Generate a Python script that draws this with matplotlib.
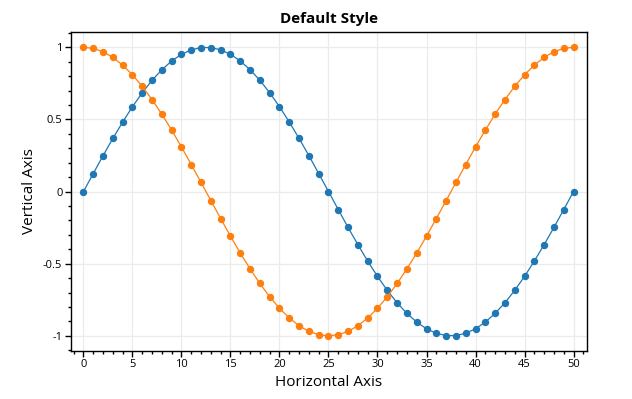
import matplotlib
matplotlib.use("Agg")
import matplotlib.pyplot as plt
from matplotlib.ticker import MultipleLocator, FuncFormatter

plt.rcParams['font.family'] = ['Open Sans', 'DejaVu Sans']
plt.rcParams['axes.unicode_minus'] = False

xs = list(range(51))
sin_vals = [0.0, 0.125, 0.249, 0.368, 0.482, 0.588, 0.685, 0.771, 0.844, 0.905,
            0.951, 0.982, 0.998, 0.998, 0.982, 0.951, 0.905, 0.844, 0.771, 0.685,
            0.588, 0.482, 0.368, 0.249, 0.125, 0.0, -0.125, -0.249, -0.368, -0.482,
            -0.588, -0.685, -0.771, -0.844, -0.905, -0.951, -0.982, -0.998, -0.998, -0.982,
            -0.951, -0.905, -0.844, -0.771, -0.685, -0.588, -0.482, -0.368, -0.249, -0.125,
            0.0]
cos_vals = [1.0, 0.992, 0.969, 0.930, 0.876, 0.809, 0.729, 0.637, 0.536, 0.426,
            0.309, 0.187, 0.063, -0.063, -0.187, -0.309, -0.426, -0.536, -0.637, -0.729,
            -0.809, -0.876, -0.930, -0.969, -0.992, -1.0, -0.992, -0.969, -0.930, -0.876,
            -0.809, -0.729, -0.637, -0.536, -0.426, -0.309, -0.187, -0.063, 0.063, 0.187,
            0.309, 0.426, 0.536, 0.637, 0.729, 0.809, 0.876, 0.930, 0.969, 0.992,
            1.0]

fig = plt.figure(figsize=(6.32, 3.99), dpi=100)
ax = fig.add_axes([0.1119, 0.1203, 0.8165, 0.8003])

ax.plot(xs, sin_vals, color='#1f77b4', lw=0.9, marker='o', ms=4.3, zorder=3)
ax.plot(xs, cos_vals, color='#ff7f0e', lw=0.9, marker='o', ms=4.3, zorder=3)

ax.set_xlim(-1.3, 51.35)
ax.set_ylim(-1.105, 1.108)
ax.xaxis.set_major_locator(MultipleLocator(5))
ax.xaxis.set_minor_locator(MultipleLocator(1))
ax.yaxis.set_major_locator(MultipleLocator(0.5))
ax.yaxis.set_minor_locator(MultipleLocator(0.1))
ax.yaxis.set_major_formatter(FuncFormatter(lambda v, p: ('%g' % v) if abs(v) > 1e-9 else '0'))

ax.grid(True, which='major', color='#ebebeb', lw=0.9, zorder=0)
ax.set_axisbelow(True)
ax.tick_params(which='major', length=4, width=1, labelsize=8, color='black', pad=2)
ax.tick_params(which='minor', length=2, width=1, color='black')
for s in ax.spines.values():
    s.set_linewidth(1.0)
    s.set_color('black')

ax.set_title('Default Style', fontsize=11, fontweight='bold', pad=6)
ax.set_xlabel('Horizontal Axis', fontsize=11, labelpad=3)
ax.set_ylabel('Vertical Axis', fontsize=11, labelpad=4)

fig.savefig('out.png', dpi=100, facecolor='white')
